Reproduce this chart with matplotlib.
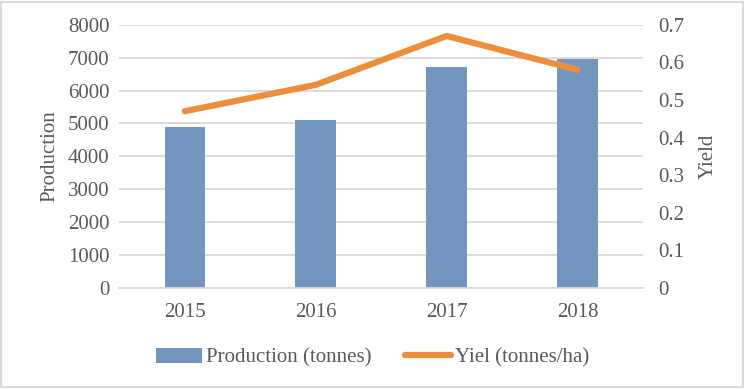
import matplotlib
matplotlib.use("Agg")
import matplotlib.pyplot as plt
import numpy as np

years = ["2015", "2016", "2017", "2018"]
production = [4900, 5100, 6700, 6950]
yield_vals = [0.47, 0.54, 0.67, 0.58]

plt.rcParams['font.family'] = ['Liberation Serif', 'DejaVu Serif']
txt = '#595959'
grid = '#d9d9d9'

fig = plt.figure(figsize=(7.46, 3.89), dpi=100)
ax = fig.add_axes([0.16, 0.2596, 0.702, 0.677])
ax2 = ax.twinx()

x = np.arange(len(years))
b = ax.bar(x, production, width=0.31, color='#7396bf', zorder=2, label='Production (tonnes)')
l, = ax2.plot(x, yield_vals, color='#ed8e3b', lw=4.5, solid_capstyle='round', zorder=3, label='Yiel (tonnes/ha)')

ax.set_xlim(-0.5, 3.5)
ax.set_ylim(0, 8000)
ax.set_yticks(range(0, 8001, 1000))
ax2.set_ylim(0, 0.7)
ax2.set_yticks([0, 0.1, 0.2, 0.3, 0.4, 0.5, 0.6, 0.7])
ax2.set_yticklabels(['0', '0.1', '0.2', '0.3', '0.4', '0.5', '0.6', '0.7'])
ax.set_xticks(x)
ax.set_xticklabels(years)
ax.yaxis.grid(True, color=grid, lw=1.3, zorder=0)
ax.set_axisbelow(True)

for a in (ax, ax2):
    for s in a.spines.values():
        s.set_visible(False)
    a.tick_params(length=0, labelsize=15, colors=txt)
ax.spines['bottom'].set_visible(True)
ax.spines['bottom'].set_color(grid)
ax.spines['bottom'].set_linewidth(1.3)
ax.tick_params(axis='x', pad=11)
ax.tick_params(axis='y', pad=7)
ax2.tick_params(axis='y', pad=11)

ax.set_ylabel('Production', fontsize=15, color=txt, labelpad=6)
ax2.set_ylabel('Yield', fontsize=15, color=txt, rotation=90, labelpad=10)

fig.legend([b, l], ['Production (tonnes)', 'Yiel (tonnes/ha)'], loc='center',
           bbox_to_anchor=(0.5, 0.08), ncol=2, frameon=False, fontsize=15,
           labelcolor=txt, handlelength=2.2, handletextpad=0.2, columnspacing=1.6)

fig.patches.append(plt.Rectangle((0.002, 0.004), 0.994, 0.99, transform=fig.transFigure,
                                 fill=False, edgecolor='#d9d9d9', lw=1.5))
fig.savefig('out.png', dpi=100)
